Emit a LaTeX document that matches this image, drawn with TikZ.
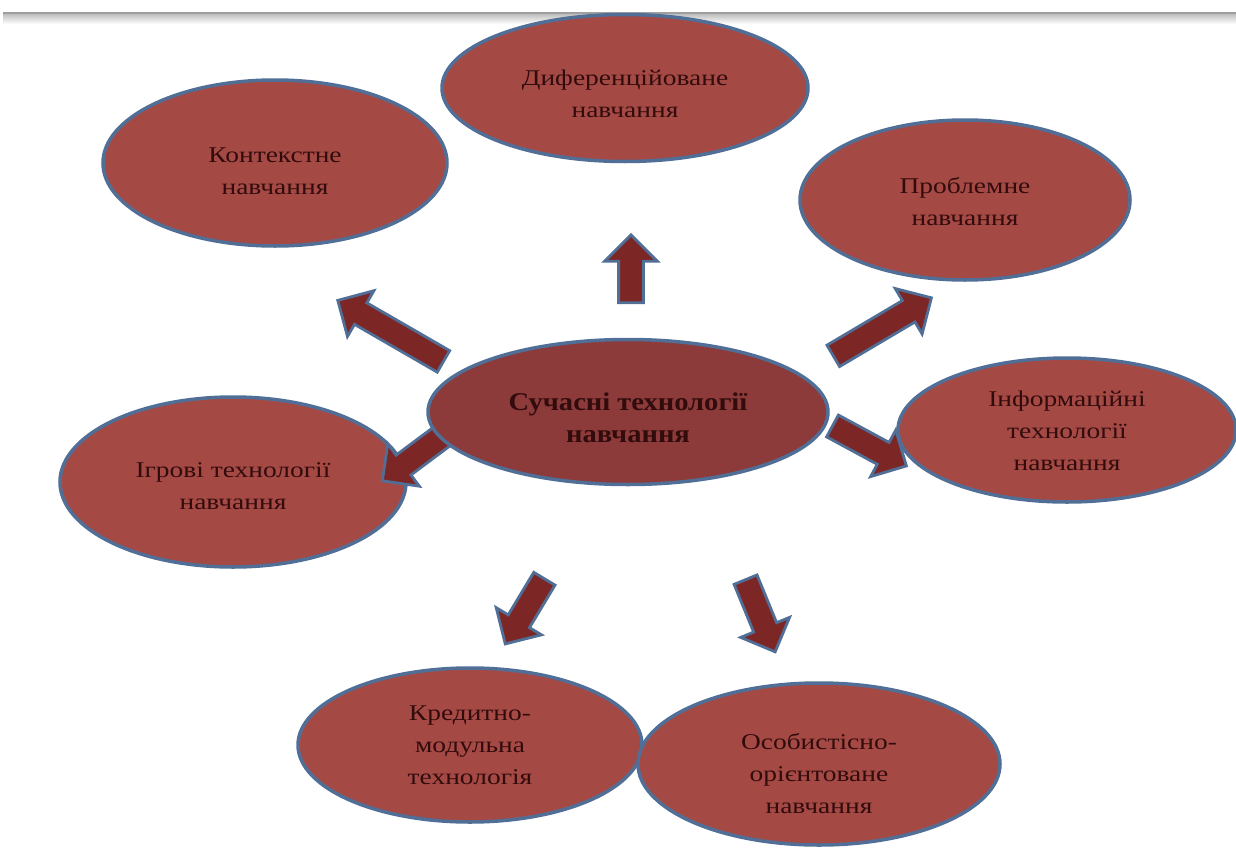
\documentclass[tikz,border=0pt]{standalone}
\usepackage{fontspec}
\setmainfont[FakeStretch=1.22]{Liberation Serif}
\newfontfamily\corefont[FakeStretch=1.12]{Liberation Serif}
\usetikzlibrary{shapes.geometric,shapes.arrows}

\definecolor{ovalfill}{RGB}{165,73,69}
\definecolor{corefill}{RGB}{140,58,58}
\definecolor{rimblue}{RGB}{80,110,150}
\definecolor{arrowfill}{RGB}{125,38,38}
\definecolor{inktext}{RGB}{50,12,12}

\tikzset{
    oval/.style={ellipse, draw=rimblue, line width=3.5pt, fill=ovalfill, inner sep=0pt},
    ovaltext/.style={text=inktext, align=center, inner sep=0pt,
        font=\fontsize{22.5}{32}\selectfont},
    blockarrow/.style={single arrow, draw=rimblue, line width=2.8pt, fill=arrowfill,
        inner xsep=0pt, inner ysep=11pt, single arrow head extend=14pt,
        anchor=center}
}

\begin{document}
\begin{tikzpicture}[x=1pt, y=-1pt]
        \useasboundingbox (0,0) rectangle (1236,862);

        % Top rule with its shadow
        \shade[top color=gray!55, bottom color=white] (3,13) rectangle (1236,24);
        \draw[gray!75, line width=1.8pt] (3,13) -- (1236,13);

        % Outer ovals
        \node[oval, minimum width=366pt, minimum height=147pt] (diff) at (625,88) {};
        \node[oval, minimum width=344pt, minimum height=166pt] (context) at (275,163) {};
        \node[oval, minimum width=330pt, minimum height=160pt] (problem) at (965,200) {};
        \node[oval, minimum width=338pt, minimum height=144pt] (info) at (1067,430) {};
        \node[oval, minimum width=346pt, minimum height=170pt] (game) at (233,482) {};
        \node[oval, minimum width=344pt, minimum height=154pt] (credit) at (470,745) {};
        \node[oval, minimum width=362pt, minimum height=162pt] (person) at (819,764) {};

        % Texts of the outer ovals
        \node[ovaltext] (diffText) at ([yshift=-6pt]diff.center) {Диференційоване\\навчання};
        \node[ovaltext] (contextText) at ([yshift=-8pt]context.center) {Контекстне\\навчання};
        \node[ovaltext] (problemText) at ([yshift=-2pt]problem.center) {Проблемне\\навчання};
        \node[ovaltext] (infoText) at ([yshift=-1pt]info.center) {Інформаційні\\технології\\навчання};
        \node[ovaltext] (gameText) at ([yshift=-4pt]game.center) {Ігрові технології\\навчання};
        \node[ovaltext] (creditText) at (credit.center) {Кредитно-\\модульна\\технологія};
        \node[ovaltext] (personText) at ([yshift=-10pt]person.center) {Особистісно-\\орієнтоване\\навчання};

        % Block arrows going out from the centre
        \node[blockarrow, minimum height=68pt, rotate=90] (toDiff) at (631,275) {};
        \node[blockarrow, minimum height=122pt, rotate=150] (toContext) at (396,334) {};
        \node[blockarrow, minimum height=114pt, rotate=30.6] (toProblem) at (877,330) {};
        \node[blockarrow, minimum height=84pt, rotate=-28.4] (toInfo) at (864,443) {};
        \node[blockarrow, minimum height=84pt, rotate=216.7] (toGame) at (421,452) {};
        \node[blockarrow, minimum height=76pt, rotate=239] (toCredit) at (528,606) {};
        \node[blockarrow, minimum height=78pt, rotate=-67.7] (toPerson) at (758,610) {};

        % Central oval
        \node[oval, fill=corefill, minimum width=400pt, minimum height=145pt] (core) at (628,412) {};
        \node[ovaltext, font=\corefont\fontsize{25.5}{32}\selectfont\bfseries] (coreText)
            at ([yshift=-6pt]core.center) {Сучасні технології\\навчання};
\end{tikzpicture}
\end{document}
